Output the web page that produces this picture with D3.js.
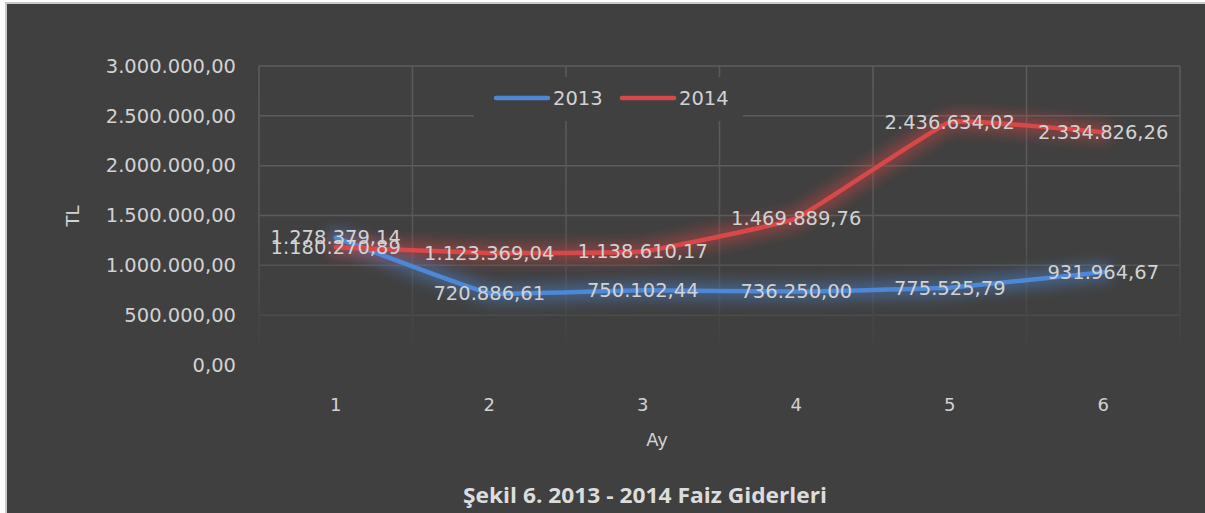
<!DOCTYPE html>
<html>
<head>
  <meta charset="utf-8">
  <title>Faiz Giderleri</title>
  <style>
    body { margin: 0; background: #ffffff; }
    text { font-family: 'DejaVu Sans', sans-serif; }
  </style>
</head>
<body>
  <div id='chart'></div>
  <script src="https://d3js.org/d3.v7.min.js"></script>
  <script>

    function translate(x, y) {
      return 'translate(' + x + ',' + y + ')';
    }

    // data
    let months = [1, 2, 3, 4, 5, 6];
    let values2013 = [1278379.14, 720886.61, 750102.44, 736250.00, 775525.79, 931964.67];
    let values2014 = [1180270.89, 1123369.04, 1138610.17, 1469889.76, 2436634.02, 2334826.26];
    let yTicks = [0, 500000, 1000000, 1500000, 2000000, 2500000, 3000000];
    let seriesNames = ['2013', '2014'];
    let seriesColors = ['#4d88d6', '#d94848'];

    let svgWidth = 1205;
    let svgHeight = 513;
    let plot = {left: 259, right: 1180, top: 66, bottom: 365};
    let textColor = '#d2d2d2';

    let trLocale = d3.formatLocale({decimal: ',', thousands: '.', grouping: [3], currency: ['', ' TL']});
    let fmt = trLocale.format(',.2f');

    let svg = d3.select('#chart')
      .append('svg')
      .attr('width', svgWidth)
      .attr('height', svgHeight);

    let defs = svg.append('defs');

    let glow = defs.append('filter')
      .attr('id', 'glow')
      .attr('x', '-20%').attr('y', '-50%')
      .attr('width', '140%').attr('height', '200%');
    glow.append('feGaussianBlur').attr('stdDeviation', 7);

    let fade = defs.append('linearGradient')
      .attr('id', 'gridFade')
      .attr('gradientUnits', 'userSpaceOnUse')
      .attr('x1', 0).attr('x2', 0)
      .attr('y1', plot.top).attr('y2', plot.bottom - 10);
    fade.append('stop').attr('offset', 0).attr('stop-color', '#5c5c5c');
    fade.append('stop').attr('offset', 0.55).attr('stop-color', '#575757');
    fade.append('stop').attr('offset', 1).attr('stop-color', '#404040');

    // background with light border
    svg.append('rect')
      .attr('x', 6).attr('y', 3)
      .attr('width', svgWidth).attr('height', svgHeight)
      .style('fill', '#404040')
      .style('stroke', '#c9c9c9')
      .style('stroke-width', 2);

    let x = d3.scaleBand()
      .domain(months)
      .range([plot.left, plot.right]);

    let y = d3.scaleLinear()
      .domain([0, 3000000])
      .range([plot.bottom, plot.top]);

    let grid = svg.append('g');

    // horizontal gridlines
    grid.selectAll('line.h')
      .data(yTicks.filter(d => d > 0))
      .enter()
      .append('line')
      .attr('x1', plot.left).attr('x2', plot.right)
      .attr('y1', d => y(d)).attr('y2', d => y(d))
      .style('stroke', d => d3.interpolateRgb('#404040', '#5c5c5c')(Math.min(1, (y(0) - y(d)) / 180 + 0.15)))
      .style('stroke-width', 1.5);

    // vertical gridlines on band edges
    let edges = months.map(d => x(d)).concat([x(months[months.length - 1]) + x.bandwidth()]);
    grid.selectAll('line.v')
      .data(edges)
      .enter()
      .append('line')
      .attr('x1', d => d).attr('x2', d => d)
      .attr('y1', plot.top).attr('y2', plot.bottom)
      .style('stroke', 'url(#gridFade)')
      .style('stroke-width', 1.5);

    // y axis tick labels
    svg.append('g')
      .selectAll('text')
      .data(yTicks)
      .enter()
      .append('text')
      .attr('x', 236)
      .attr('y', d => y(d))
      .attr('dy', '0.35em')
      .attr('text-anchor', 'end')
      .style('font-size', '19.5px')
      .style('fill', textColor)
      .text(d => fmt(d));

    // x axis tick labels
    svg.append('g')
      .selectAll('text')
      .data(months)
      .enter()
      .append('text')
      .attr('x', d => x(d) + x.bandwidth() / 2)
      .attr('y', 405)
      .attr('dy', '0.35em')
      .attr('text-anchor', 'middle')
      .style('font-size', '18px')
      .style('fill', textColor)
      .text(d => d);

    svg.append('text')
      .attr('x', 657).attr('y', 440)
      .attr('dy', '0.35em')
      .attr('text-anchor', 'middle')
      .style('font-size', '18px')
      .style('fill', textColor)
      .text('Ay');

    svg.append('text')
      .attr('transform', translate(73, 216) + ' rotate(-90)')
      .attr('dy', '0.35em')
      .attr('text-anchor', 'middle')
      .style('font-size', '18px')
      .style('fill', textColor)
      .text('TL');

    // lines
    let series = [values2013, values2014];
    let line = d3.line()
      .x((d, i) => x(months[i]) + x.bandwidth() / 2)
      .y(d => y(d))
      .curve(d3.curveCardinal.tension(0.75));

    let lines = svg.append('g');
    series.forEach(function(vals, s) {
      lines.append('path')
        .datum(vals)
        .attr('d', line)
        .style('fill', 'none')
        .style('stroke', seriesColors[s])
        .style('stroke-opacity', 0.45)
        .style('stroke-width', 18)
        .style('stroke-linecap', 'round')
        .attr('filter', 'url(#glow)');
    });
    series.forEach(function(vals, s) {
      lines.append('path')
        .datum(vals)
        .attr('d', line)
        .style('fill', 'none')
        .style('stroke', seriesColors[s])
        .style('stroke-width', 4.5)
        .style('stroke-linecap', 'round')
        .style('stroke-linejoin', 'round');
    });

    // data labels
    let labels = svg.append('g');
    series.forEach(function(vals) {
      labels.selectAll(null)
        .data(vals)
        .enter()
        .append('text')
        .attr('x', (d, i) => x(months[i]) + x.bandwidth() / 2)
        .attr('y', d => y(d))
        .attr('dy', '0.35em')
        .attr('text-anchor', 'middle')
        .style('font-size', '19.5px')
        .style('fill', textColor)
        .text(d => fmt(d));
    });

    // legend
    let legend = svg.append('g');
    legend.append('rect')
      .attr('x', 474).attr('y', 77)
      .attr('width', 269).attr('height', 44)
      .style('fill', '#404040');
    let legendX = [496, 622];
    seriesNames.forEach(function(name, s) {
      legend.append('line')
        .attr('x1', legendX[s]).attr('x2', legendX[s] + 52)
        .attr('y1', 98).attr('y2', 98)
        .style('stroke', seriesColors[s])
        .style('stroke-width', 4.5)
        .style('stroke-linecap', 'round');
      legend.append('text')
        .attr('x', legendX[s] + 57)
        .attr('y', 98)
        .attr('dy', '0.35em')
        .style('font-size', '19.5px')
        .style('fill', textColor)
        .text(name);
    });

    // caption
    svg.append('text')
      .attr('x', 645).attr('y', 503)
      .attr('text-anchor', 'middle')
      .attr('textLength', 364)
      .attr('lengthAdjust', 'spacingAndGlyphs')
      .style('font-family', "'Open Sans', sans-serif")
      .style('font-weight', 'bold')
      .style('font-size', '21px')
      .style('fill', '#dcdcdc')
      .text('Şekil 6. 2013 - 2014 Faiz Giderleri');

  </script>
</body>
</html>
